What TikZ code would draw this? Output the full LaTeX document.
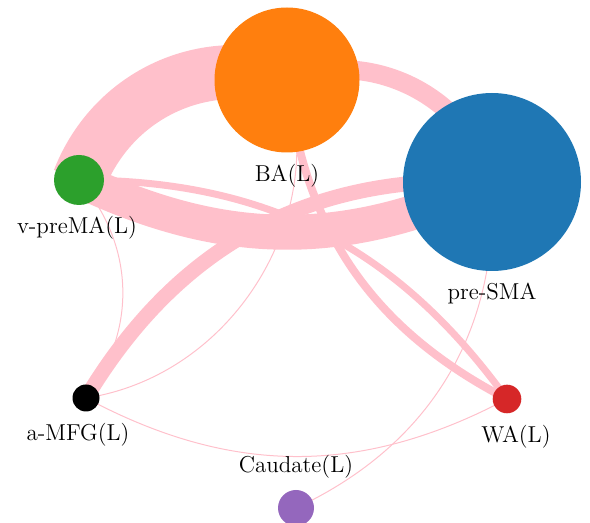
\documentclass[tikz,border=0pt]{standalone}
\usepackage{tikz}
\usetikzlibrary{positioning,backgrounds}
\definecolor{tabblue}{HTML}{1F77B4}
\definecolor{taborange}{HTML}{FF7F0E}
\definecolor{tabgreen}{HTML}{2CA02C}
\definecolor{tabred}{HTML}{D62728}
\definecolor{tabpurple}{HTML}{9467BD}
\definecolor{linkpink}{RGB}{255,192,203}
\tikzstyle{region} = [circle, inner sep=0pt, outer sep=0pt, draw=none]
\tikzstyle{link} = [draw=linkpink]

\begin{document}
\begin{tikzpicture}[x=0.5pt, y=-0.5pt,
  every label/.style={font=\fontsize{11.5}{13}\selectfont, text=black},
  label distance=2.3pt]
\useasboundingbox (0,0) rectangle (590,523);
% regions
\node[region, fill=taborange, minimum size=72.5pt, label=below:BA(L)] (ba) at (287,80) {};
\node[region, fill=tabblue, minimum size=89pt, label=below:pre-SMA] (presma) at (492,182) {};
\node[region, fill=tabgreen, minimum size=25pt, label={[xshift=-1pt]below:v-preMA(L)}] (vprema) at (79,180) {};
\node[region, fill=black, minimum size=13.5pt, label={[xshift=-4pt]below:a-MFG(L)}] (amfg) at (86,398) {};
\node[region, fill=tabred, minimum size=14.3pt, label={[xshift=4.5pt]below:WA(L)}] (wa) at (507,399) {};
\node[region, fill=tabpurple, minimum size=18pt, label=above:Caudate(L)] (caud) at (296,508) {};
% links
\begin{scope}[on background layer]
\draw[link, line width=27pt] (vprema.center) to[bend left=43] (ba.center);
\draw[link, line width=9.5pt] (ba.center) to[bend left=48] (presma.center);
\draw[link, line width=17.5pt] (vprema.center) to[bend right=25] (presma.center);
\draw[link, line width=7.5pt] (amfg.center) to[bend left=31] (presma.center);
\draw[link, line width=3.5pt] (vprema.center) to[bend left=27] (wa.center);
\draw[link, line width=4pt] (ba.center) to[bend right=28] (wa.center);
\draw[link, line width=0.5pt] (amfg.center) to[bend right=49] (ba.center);
\draw[link, line width=0.5pt] (vprema.center) to[bend left=39] (amfg.center);
\draw[link, line width=0.5pt] (amfg.center) to[bend right=28] (wa.center);
\draw[link, line width=0.5pt] (caud.center) to[bend right=34] (presma.center);
\end{scope}
\end{tikzpicture}
\end{document}
